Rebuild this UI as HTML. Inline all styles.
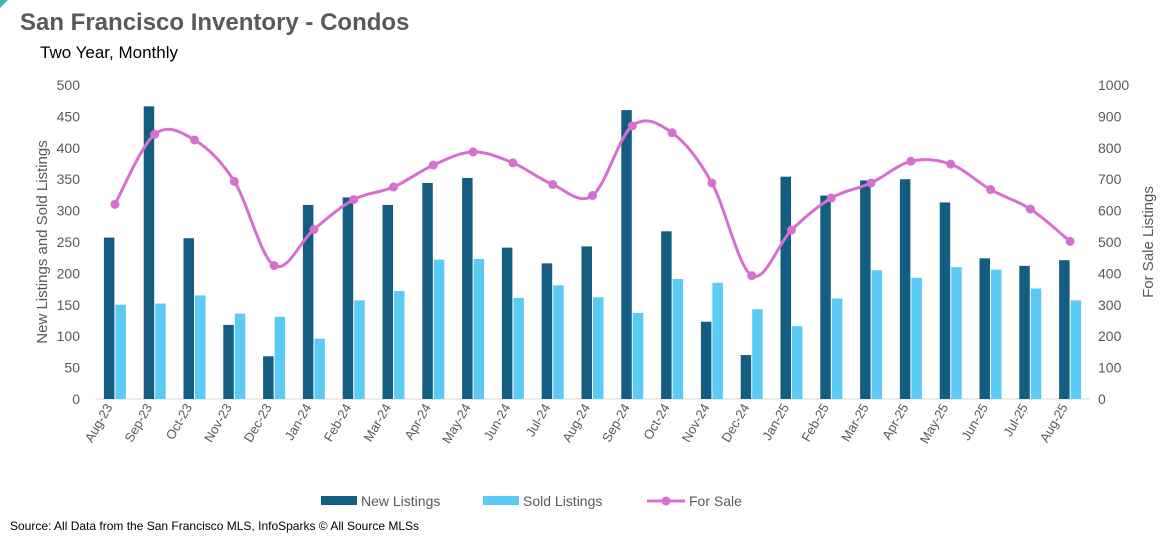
<!DOCTYPE html>
<html><head><meta charset="utf-8"><style>
body{margin:0;background:#fff;width:1166px;height:546px;overflow:hidden;font-family:"Liberation Sans",sans-serif}
</style></head><body>
<svg id="c" width="1166" height="546" xmlns="http://www.w3.org/2000/svg">
<polygon points="0,0 8,0 0,8" fill="#3fb8a8"/>
<text x="20" y="30" font-size="24" font-weight="bold" fill="#595959">San Francisco Inventory - Condos</text>
<text x="40" y="58" font-size="17" fill="#000">Two Year, Monthly</text>
<text transform="translate(47,242) rotate(-90)" text-anchor="middle" font-size="15" fill="#595959">New Listings and Sold Listings</text>
<text transform="translate(1153,242) rotate(-90)" text-anchor="middle" font-size="15" fill="#595959">For Sale Listings</text>
<g id="axes"></g><g id="bars"></g><g id="line"></g>
<g>
<rect x="321" y="496" width="36" height="9" fill="#135e80"/>
<text x="361" y="506" font-size="14" fill="#595959">New Listings</text>
<rect x="483" y="496" width="36" height="9" fill="#5bcbf5"/>
<text x="523" y="506" font-size="14" fill="#595959">Sold Listings</text>
<line x1="647" y1="501" x2="685" y2="501" stroke="#d86fd0" stroke-width="3"/>
<circle cx="666" cy="501" r="4.5" fill="#d86fd0"/>
<text x="689" y="506" font-size="14" fill="#595959">For Sale</text>
</g>
<text x="10" y="530" font-size="12" fill="#000">Source: All Data from the San Francisco MLS, InfoSparks © All Source MLSs</text>
</svg>
<script>
const categories=["Aug-23","Sep-23","Oct-23","Nov-23","Dec-23","Jan-24","Feb-24","Mar-24","Apr-24","May-24","Jun-24","Jul-24","Aug-24","Sep-24","Oct-24","Nov-24","Dec-24","Jan-25","Feb-25","Mar-25","Apr-25","May-25","Jun-25","Jul-25","Aug-25"];
const newListings=[257,466,256,118,68,309,321,309,344,352,241,216,243,460,267,123,70,354,324,348,350,313,224,212,221];
const soldListings=[150,152,165,136,131,96,157,172,222,223,161,181,162,137,191,185,143,116,160,205,193,210,206,176,157];
const forSale=[620,843,825,693,425,540,635,675,745,787,752,683,648,870,848,688,393,538,640,688,757,748,667,605,502];
const leftTicks=[0,50,100,150,200,250,300,350,400,450,500];
const rightTicks=[0,100,200,300,400,500,600,700,800,900,1000];
const NS="http://www.w3.org/2000/svg";
const X0=95,X1=1090,Y0=399,Y1=85;
const band=(X1-X0)/categories.length;
const xc=i=>X0+band*(i+0.5);
const yl=v=>Y0-(v/500)*(Y0-Y1);
const yr=v=>Y0-(v/1000)*(Y0-Y1);
function mk(tag,attrs,parent,txt){const e=document.createElementNS(NS,tag);for(const k in attrs)e.setAttribute(k,attrs[k]);if(txt!==undefined)e.textContent=txt;parent.appendChild(e);return e;}
const axes=document.getElementById('axes'),bars=document.getElementById('bars'),line=document.getElementById('line');
leftTicks.forEach(t=>{const e=mk('text',{x:80,y:yl(t)+5,'text-anchor':'end','font-size':14,fill:'#595959'},axes,t);

});
rightTicks.forEach(t=>{const e=mk('text',{x:1098,y:yr(t)+5,'font-size':14,fill:'#595959'},axes,t);

});
const base=mk('line',{x1:X0,x2:X1,y1:Y0,y2:Y0,stroke:'#d9d9d9'},axes);


categories.forEach((c,i)=>{const x=xc(i);
const e=mk('text',{transform:`translate(${x-2},${Y0+8}) rotate(-60)`,'text-anchor':'end','font-size':13,fill:'#595959'},axes,c);


const b1=mk('rect',{x:x-11,y:yl(newListings[i]),width:10.5,height:Y0-yl(newListings[i]),fill:'#135e80'},bars);


const b2=mk('rect',{x:x+0.5,y:yl(soldListings[i]),width:10.5,height:Y0-yl(soldListings[i]),fill:'#5bcbf5'},bars);

});
const pts=forSale.map((v,i)=>[xc(i),yr(v)]);
let d=`M${pts[0][0]},${pts[0][1]}`;
for(let i=0;i<pts.length-1;i++){const p0=pts[Math.max(0,i-1)],p1=pts[i],p2=pts[i+1],p3=pts[Math.min(pts.length-1,i+2)];
const t=1/6;d+=` C${p1[0]+(p2[0]-p0[0])*t},${p1[1]+(p2[1]-p0[1])*t} ${p2[0]-(p3[0]-p1[0])*t},${p2[1]-(p3[1]-p1[1])*t} ${p2[0]},${p2[1]}`;}
const pl=mk('path',{d:d,fill:'none',stroke:'#d86fd0','stroke-width':3},line);


pts.forEach(p=>{const c=mk('circle',{cx:p[0],cy:p[1],r:4.5,fill:'#d86fd0'},line);

});
</script>
</body></html>
